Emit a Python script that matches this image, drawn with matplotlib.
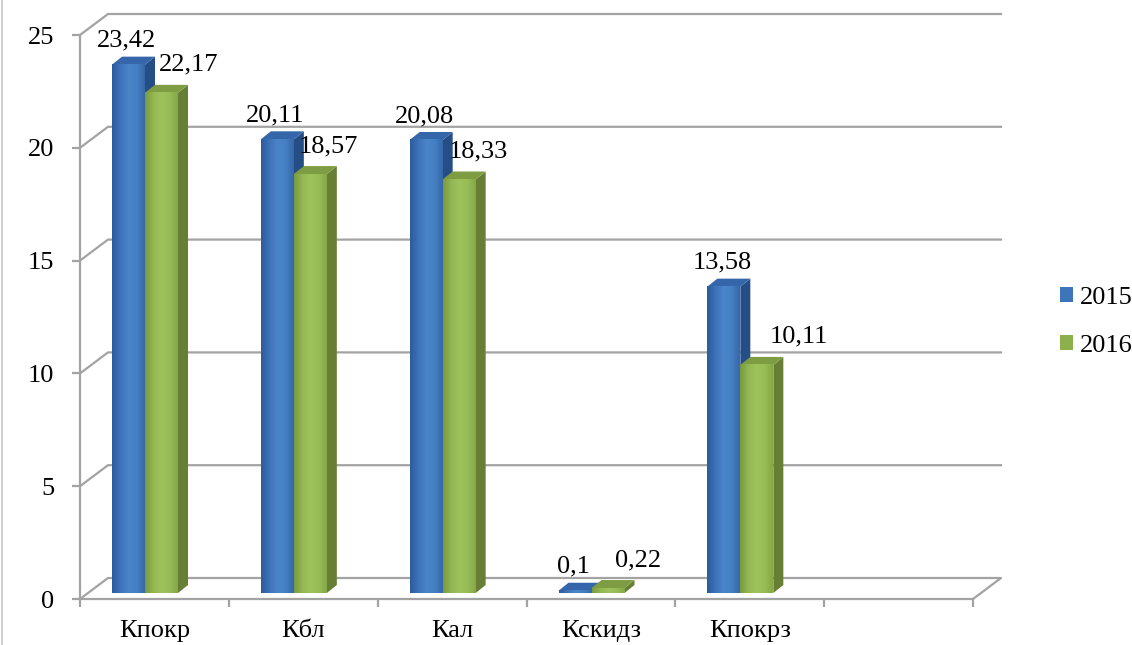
import matplotlib
matplotlib.use("Agg")
import matplotlib.pyplot as plt
import numpy as np
from matplotlib.patches import Polygon, Patch
from matplotlib.colors import LinearSegmentedColormap
from matplotlib.lines import Line2D

# ---- data ----
categories = ['Кпокр', 'Кбл', 'Кал', 'Кскидз', 'Кпокрз']
n_slots = 6
series_names = ['2015', '2016']
values_2015 = [23.42, 20.11, 20.08, 0.1, 13.58]
values_2016 = [22.17, 18.57, 18.33, 0.22, 10.11]
y_ticks = [0, 5, 10, 15, 20, 25]

# ---- style ----
W, H, DPI = 1132, 645, 100
FONT = 'Liberation Serif'
GRID = '#A3A3A3'
FS = 19
plt.rcParams['font.family'] = [FONT, 'DejaVu Serif']

fig = plt.figure(figsize=(W / DPI, H / DPI), dpi=DPI)
ax_l, ax_r, ax_b, ax_t = 80, 973, 599, 35
ax = fig.add_axes([ax_l / W, (H - ax_b) / H, (ax_r - ax_l) / W, (ax_b - ax_t) / H])
ax.set_xlim(0, n_slots)
ax.set_ylim(0, y_ticks[-1])
px_x = (ax_r - ax_l) / n_slots
px_y = (ax_b - ax_t) / y_ticks[-1]
dX = lambda p: p / px_x
dY = lambda p: p / px_y

# back wall & floor (depth offset)
bdx, bdy = dX(28), dY(21)
for v in y_ticks:
    xs = [0, bdx, n_slots + bdx]
    ys = [v, v + bdy, v + bdy]
    if v == 0:
        xs.append(n_slots)
        ys.append(0)
    ax.add_line(Line2D(xs, ys, color=GRID, lw=1.6, clip_on=False, zorder=1))

for s in ['top', 'right']:
    ax.spines[s].set_visible(False)
for s in ['left', 'bottom']:
    ax.spines[s].set_color(GRID)
    ax.spines[s].set_linewidth(1.6)
    ax.spines[s].set_zorder(1)

ax.set_yticks(y_ticks)
ax.set_yticklabels([str(v) for v in y_ticks])
ax.tick_params(axis='y', length=5.5, width=1.6, color=GRID, pad=13, labelsize=FS)
ax.set_xticks(range(n_slots + 1))
ax.set_xticklabels([])
ax.tick_params(axis='x', which='major', length=6, width=1.6, color=GRID)
ax.set_xticks([i + 0.5 for i in range(len(categories))], minor=True)
ax.set_xticklabels(categories, minor=True)
ax.tick_params(axis='x', which='minor', length=0, pad=15, labelsize=FS)
ax.patch.set_alpha(0)

# bars
base = dY(6)
bar_off = dX(32)
bar_w = dX(33)
ddx, ddy = dX(10), dY(8)

blue = dict(front=['#2C5C9C', '#3C72B8', '#4A84C9', '#4680C4', '#3568A8'],
            side='#254E86', top='#3566A9', legend='#3E74BA')
green = dict(front=['#7A9A3E', '#93B753', '#9EC25C', '#98BC56', '#86A848'],
             side='#677F35', top='#7E9D42', legend='#8CB04C')

def draw_bar(x0, v, sty, z):
    top = base + v
    x1 = x0 + bar_w
    ax.add_patch(Polygon([(x1, base), (x1 + ddx, base + ddy), (x1 + ddx, top + ddy), (x1, top)],
                         closed=True, facecolor=sty['side'], edgecolor='none', zorder=z))
    ax.add_patch(Polygon([(x0, top), (x1, top), (x1 + ddx, top + ddy), (x0 + ddx, top + ddy)],
                         closed=True, facecolor=sty['top'], edgecolor='none', zorder=z))
    ax.bar(x0, v, width=bar_w, bottom=base, align='edge', color=sty['front'][2],
           linewidth=0, zorder=z)
    cmap = LinearSegmentedColormap.from_list('g', sty['front'])
    grad = np.linspace(0, 1, 64).reshape(1, -1)
    ax.imshow(grad, extent=(x0, x1, base, top), aspect='auto', cmap=cmap,
              zorder=z + 0.01, interpolation='bilinear')
    return top

green_label_dx = [27, 18, 19, 30, 42]
for i in range(len(categories)):
    xb = i + bar_off
    xg = xb + bar_w
    tb = draw_bar(xb, values_2015[i], blue, 3 + i * 0.1)
    tg = draw_bar(xg, values_2016[i], green, 3.05 + i * 0.1)
    ax.text(xb + bar_w / 2 - dX(2), tb + dY(24), str(values_2015[i]).replace('.', ','),
            ha='center', va='center', fontsize=FS, zorder=10)
    ax.text(xg + bar_w / 2 + dX(green_label_dx[i]), tg + dY(28),
            str(values_2016[i]).replace('.', ','),
            ha='center', va='center', fontsize=FS, zorder=10)

ax.set_xlim(0, n_slots)
ax.set_ylim(0, y_ticks[-1])

handles = [Patch(facecolor=blue['legend'], edgecolor='none'),
           Patch(facecolor=green['legend'], edgecolor='none')]
fig.legend(handles, series_names, loc='center left',
           bbox_to_anchor=(1060 / W, (H - 322) / H), frameon=False,
           fontsize=FS, handlelength=0.5, handleheight=0.5, handletextpad=0.25,
           labelspacing=1.0, borderpad=0, borderaxespad=0)

fig.add_artist(Line2D([2 / W, 2 / W], [0, 1], color='#C8C8C8', lw=1.2))

fig.savefig('out.png', dpi=DPI)
